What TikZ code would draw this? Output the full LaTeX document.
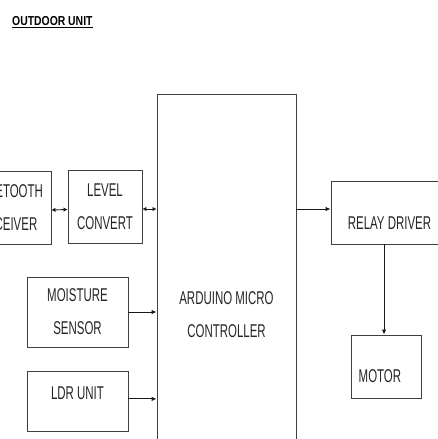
\documentclass[tikz,border=0pt]{standalone}
\usepackage{fontspec}
\setmainfont{Liberation Sans}
\newfontfamily\blkfont{Liberation Sans}[FakeStretch=0.62]
\newfontfamily\ttlfont{Liberation Sans}[FakeStretch=0.8,BoldFont={Liberation Sans Bold}]
\usetikzlibrary{positioning,arrows.meta}

\newcommand{\blksize}{\blkfont\fontsize{18.5pt}{33pt}\selectfont}

\begin{document}
\begin{tikzpicture}[x=1pt,y=1pt,
    blk/.style={rectangle,draw=black!75,line width=0.9pt,inner sep=0pt,align=center,text=black!85,font=\blksize},
    sig/.style={draw=black!90,line width=0.9pt,-{Latex[length=5pt,width=4.5pt]}},
    dbl/.style={draw=black!90,line width=0.9pt,{Latex[length=4pt,width=4.5pt]}-{Latex[length=4pt,width=4.5pt]}}]

\useasboundingbox (0,0) rectangle (438,-439);

\node[anchor=west,inner sep=0pt,font=\ttlfont\fontsize{13pt}{16pt}\selectfont\bfseries] (title) at (12,-22) {\underline{OUTDOOR UNIT}};

% input side
\node[blk,minimum width=86pt,minimum height=73pt] (bt) at (8,-207.5) {BLUETOOTH\\RECEIVER};
\node[blk,minimum width=74pt,minimum height=73pt] (lvl) at (105,-207) {LEVEL\\CONVERT};
\node[blk,minimum width=101pt,minimum height=70pt] (moist) at (77.5,-312) {MOISTURE\\SENSOR};
\node[blk,minimum width=101pt,minimum height=60pt,text height=13pt,text depth=17.7pt,below=24pt of moist] (ldr) {LDR UNIT};

% controller
\node[blk,minimum width=139pt,minimum height=442pt] (ard) at (226.5,-315) {ARDUINO MICRO\\CONTROLLER};

% output side
\node[blk,minimum width=117pt,minimum height=63pt,text height=33pt,text depth=0pt] (relay) at (389.5,-212.5) {RELAY DRIVER};
\node[blk,minimum width=70pt,minimum height=63pt,text height=32pt,text depth=0pt,text width=56pt,align=left] (motor) at (386.7,-366.5) {MOTOR};

\draw[dbl] ([yshift=-2.5pt]bt.east) -- ([yshift=-2.5pt]lvl.west);
\draw[dbl] ([yshift=-2pt]lvl.east) -- ([yshift=-2pt]lvl.east -| ard.west);
\draw[sig] (moist.east) -- (moist.east -| ard.west);
\draw[sig] ([yshift=3pt]ldr.east) -- ([yshift=3pt]ldr.east -| ard.west);
\draw[sig] ([yshift=3.5pt]relay.west -| ard.east) -- ([yshift=3.5pt]relay.west);
\draw[sig] ([xshift=-5.5pt]relay.south) -- ([xshift=-5.5pt]relay.south |- motor.north);

\end{tikzpicture}
\end{document}
